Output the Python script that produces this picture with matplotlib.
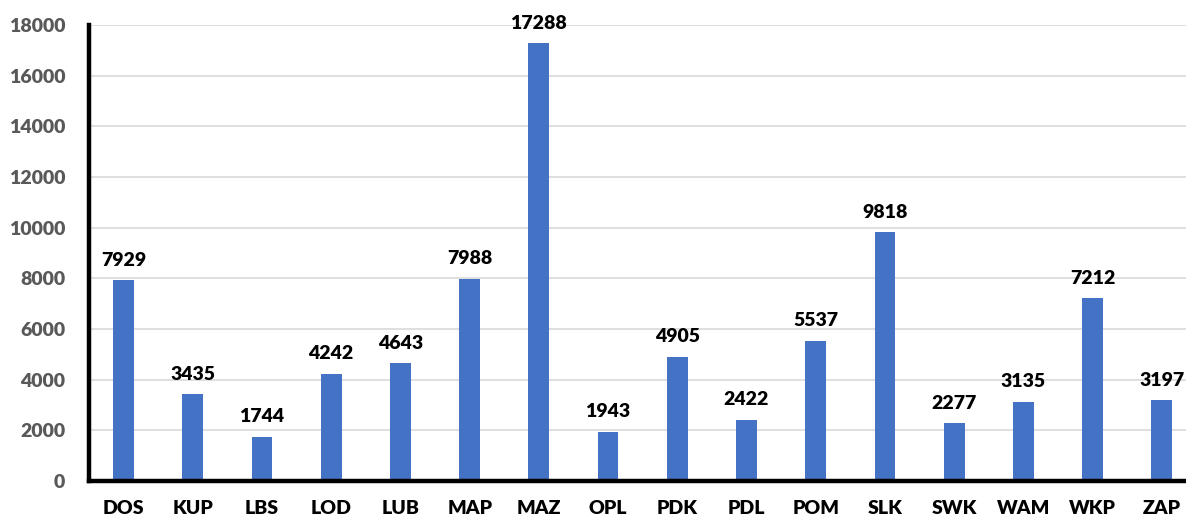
import matplotlib
matplotlib.use("Agg")
import matplotlib.pyplot as plt

regions = ["DOS", "KUP", "LBS", "LOD", "LUB", "MAP", "MAZ", "OPL",
           "PDK", "PDL", "POM", "SLK", "SWK", "WAM", "WKP", "ZAP"]
counts = [7929, 3435, 1744, 4242, 4643, 7988, 17288, 1943,
          4905, 2422, 5537, 9818, 2277, 3135, 7212, 3197]
yticks = list(range(0, 18001, 2000))

plt.rcParams["font.family"] = ["Lato", "DejaVu Sans"]
weight = "heavy"

fig = plt.figure(figsize=(11.86, 5.18), dpi=100)
ax = fig.add_axes([0.075, 0.0714, 0.925, 0.8803])

x = list(range(len(regions)))
ax.bar(x, counts, width=0.3, color="#4472C4", zorder=3)

for xi, v in zip(x, counts):
    ax.text(xi, v + 450, str(v), ha="center", va="bottom",
            fontsize=14, fontweight=weight, color="black")

ax.set_xlim(-0.5, 15.35)
ax.set_ylim(0, 18000)
ax.set_yticks(yticks)
ax.set_xticks(x)
ax.set_xticklabels(regions)
ax.grid(axis="y", color="#d9d9d9", linewidth=1.2, zorder=0)

for side in ["top", "right"]:
    ax.spines[side].set_visible(False)
ax.spines["left"].set_linewidth(3.2)
ax.spines["bottom"].set_linewidth(3.2)
ax.spines["left"].set_zorder(4)
ax.spines["bottom"].set_zorder(4)

ax.tick_params(axis="both", length=0)
ax.tick_params(axis="y", pad=17, labelsize=14, labelcolor="#595959")
ax.tick_params(axis="x", pad=14, labelsize=14, labelcolor="black")
for lab in ax.get_yticklabels() + ax.get_xticklabels():
    lab.set_fontweight(weight)

fig.savefig("out.png", dpi=100)
